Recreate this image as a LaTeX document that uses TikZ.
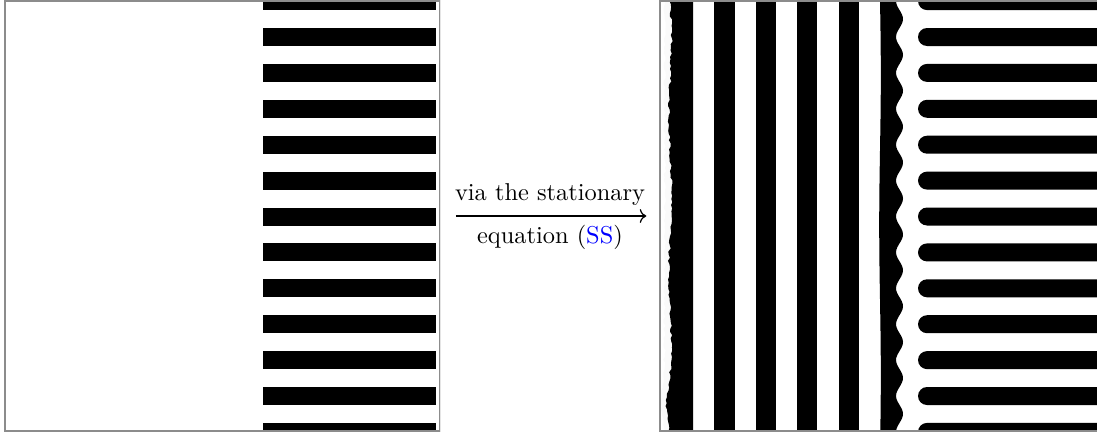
\documentclass[tikz,border=0pt]{standalone}
\usepackage{tikz}
\usetikzlibrary{arrows.meta}

\begin{document}
\begin{tikzpicture}[x=0.41pt, y=-0.41pt, >=To,
    panel/.style={draw=gray!90, line width=0.6pt, inner sep=0pt, minimum height=176.3pt},
    bar/.style={fill=black}]
    \useasboundingbox (0,0) rectangle (1097,433);
    \pgfmathsetseed{7}
    % initial state: horizontal bars on the right half
    \begin{scope}
      \clip (5,1) rectangle (440,431);
      \foreach \k in {-1,...,11}
        \fill[bar] (263,{28+35.9*\k}) rectangle (436,{46+35.9*\k});
    \end{scope}
    \node[panel,minimum width=178.35pt] (initial) at (222.5,216) {};
    \draw[gray!20,line width=0.6pt] (initial.north east) -- (initial.south east);
    % final state
    \begin{scope}
      \clip (660,1) rectangle (1110,431);
      \fill[gray!4] plot[variable=\t, domain=1:431, samples=140] ({666-2.5*rnd-4/(1+((\t-400)/15)^2)}, \t)
        -- (672,431) -- (672,1) -- cycle;
      \fill[bar] plot[variable=\t, domain=1:431, samples=140] ({671.5-2.5*rnd+1.2*sin(\t*2.3)-4/(1+((\t-400)/15)^2)}, \t)
        -- (693,431) -- (693,1) -- cycle;
      \fill[bar] (714,1) rectangle (735,431);
      \fill[bar] (756,1) rectangle (776,431);
      \fill[bar] (797,1) rectangle (817,431);
      \fill[bar] (839,1) rectangle (859,431);
      \fill[bar] plot[variable=\t, domain=1:431, samples=60] ({880+0.8*sin(\t*1.2)}, \t)
        -- plot[variable=\t, domain=0:430, samples=160] ({899.5+3.5*cos((412-\t)*10.028)}, {431-\t})
        -- cycle;
      \foreach \k in {-1,...,11}
        \fill[bar,rounded corners=3.7pt] (918,{28+35.9*\k}) rectangle (1130,{46+35.9*\k});
    \end{scope}
    \node[panel,minimum width=180pt] (final) at (879.5,216) {};
    % the map between them
    \draw[->,line width=0.5pt,shorten <=6.2pt,shorten >=5.3pt] (initial.east) -- (final.west)
      node[midway,above,inner sep=4pt] {via the stationary}
      node[midway,below] {equation (\textcolor{blue}{SS})};
\end{tikzpicture}
\end{document}
